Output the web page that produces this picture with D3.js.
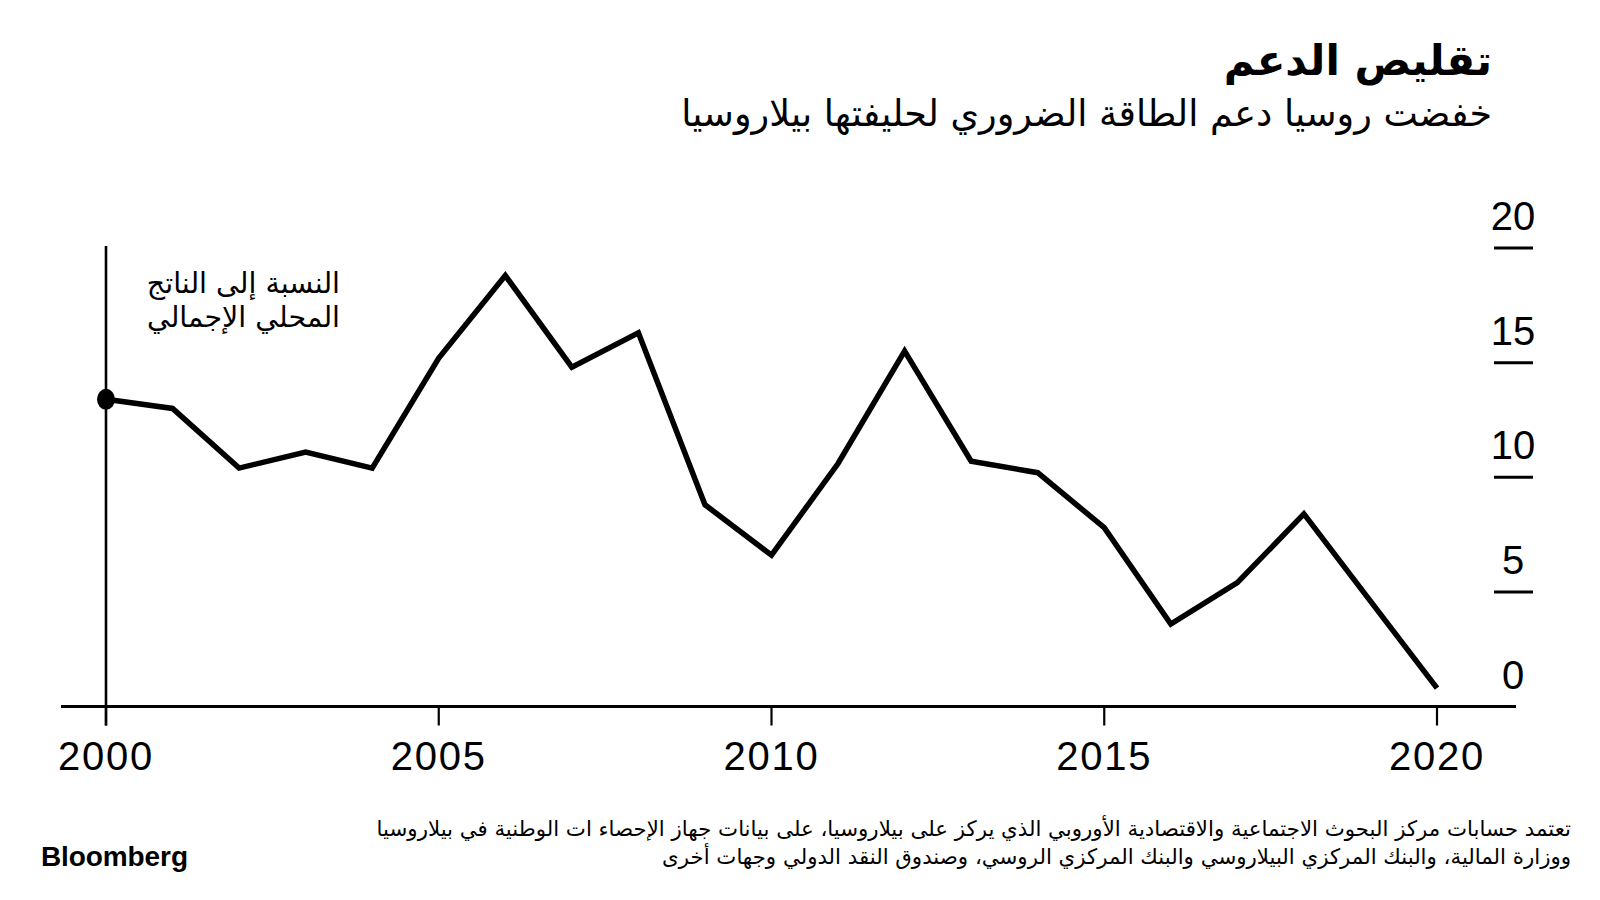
<!DOCTYPE html>
<html>
<head>
<meta charset="utf-8">
<script src="https://cdn.jsdelivr.net/npm/d3@7"></script>
<style>
  html, body { margin: 0; padding: 0; background: #ffffff; }
  svg { display: block; }
</style>
</head>
<body>
<svg id="chart" width="1600" height="900"></svg>
<script>
// ---- data ----
const years = [2000, 2001, 2002, 2003, 2004, 2005, 2006, 2007, 2008, 2009, 2010,
               2011, 2012, 2013, 2014, 2015, 2016, 2017, 2018, 2019, 2020];
const subsidyPctGDP = [13.4, 13.0, 10.4, 11.1, 10.4, 15.2, 18.8, 14.8, 16.3, 8.8, 6.6,
                       10.6, 15.5, 10.7, 10.2, 7.8, 3.6, 5.4, 8.4, 4.6, 0.8];
const xTicks = [2000, 2005, 2010, 2015, 2020];
const yTicks = [0, 5, 10, 15, 20];

const title = "تقليص الدعم";
const subtitle = "خفضت روسيا دعم الطاقة الضروري لحليفتها بيلاروسيا";
const unitLabel = ["النسبة إلى الناتج", "المحلي الإجمالي"];
const sourceLines = [
  "تعتمد حسابات مركز البحوث الاجتماعية والاقتصادية الأوروبي الذي يركز على بيلاروسيا، على بيانات جهاز الإحصاء ات الوطنية في بيلاروسيا",
  "ووزارة المالية، والبنك المركزي البيلاروسي والبنك المركزي الروسي، وصندوق النقد الدولي وجهات أخرى"
];
const brand = "Bloomberg";

// ---- layout ----
const svg = d3.select("#chart");
const arabicFont = "'DejaVu Sans', 'Noto Sans', sans-serif";
const latinFont = "'Liberation Sans', Arial, Helvetica, sans-serif";

const x = d3.scaleLinear().domain([2000, 2020]).range([106, 1437]);
const y = d3.scaleLinear().domain([0, 20]).range([706.5, 248]);

// Title
svg.append("text")
  .attr("x", 1492).attr("y", 75)
  .attr("direction", "rtl").attr("text-anchor", "start")
  .attr("font-family", arabicFont).attr("font-weight", "bold")
  .attr("font-size", 42).attr("fill", "#000")
  .text(title);

// Subtitle
svg.append("text")
  .attr("x", 1492).attr("y", 126)
  .attr("direction", "rtl").attr("text-anchor", "start")
  .attr("font-family", arabicFont)
  .attr("font-size", 36.5).attr("fill", "#000")
  .text(subtitle);

// X axis baseline
svg.append("line")
  .attr("x1", 61).attr("x2", 1516)
  .attr("y1", y(0)).attr("y2", y(0))
  .attr("stroke", "#000").attr("stroke-width", 3.2);

// X ticks + labels
const xg = svg.append("g");
xg.selectAll("line.xt").data(xTicks).join("line")
  .attr("class", "xt")
  .attr("x1", d => x(d)).attr("x2", d => x(d))
  .attr("y1", y(0)).attr("y2", y(0) + 19)
  .attr("stroke", "#000").attr("stroke-width", 2.2);
xg.selectAll("text").data(xTicks).join("text")
  .attr("x", d => x(d)).attr("y", 770)
  .attr("text-anchor", "middle")
  .attr("font-family", latinFont).attr("font-size", 40)
  .attr("letter-spacing", 1.8)
  .attr("fill", "#000")
  .text(d => d);

// Y ticks (short lines under labels) + labels on right
const yg = svg.append("g");
yg.selectAll("line.yt").data(yTicks.filter(d => d > 0)).join("line")
  .attr("class", "yt")
  .attr("x1", 1494).attr("x2", 1533)
  .attr("y1", d => y(d)).attr("y2", d => y(d))
  .attr("stroke", "#000").attr("stroke-width", 3);
yg.selectAll("text").data(yTicks).join("text")
  .attr("x", 1513).attr("y", d => y(d) - 18)
  .attr("text-anchor", "middle")
  .attr("font-family", latinFont).attr("font-size", 40)
  .attr("fill", "#000")
  .text(d => d);

// Vertical reference line at first year
svg.append("line")
  .attr("x1", x(2000)).attr("x2", x(2000))
  .attr("y1", 246).attr("y2", y(0) + 19)
  .attr("stroke", "#000").attr("stroke-width", 2.6);

// Unit label
const ul = svg.append("text")
  .attr("direction", "rtl").attr("text-anchor", "start")
  .attr("font-family", arabicFont).attr("font-size", 28.5)
  .attr("fill", "#000");
ul.selectAll("tspan").data(unitLabel).join("tspan")
  .attr("x", 340).attr("y", (d, i) => 293 + i * 34)
  .text(d => d);

// Line
const data = years.map((yr, i) => ({ yr, v: subsidyPctGDP[i] }));
svg.append("path")
  .datum(data)
  .attr("fill", "none")
  .attr("stroke", "#000")
  .attr("stroke-width", 5.5)
  .attr("stroke-linejoin", "miter")
  .attr("d", d3.line().x(d => x(d.yr)).y(d => y(d.v)));

// Start dot
svg.append("ellipse")
  .attr("cx", x(data[0].yr)).attr("cy", y(data[0].v))
  .attr("rx", 9).attr("ry", 10.5).attr("fill", "#000");

// Source
const src = svg.append("text")
  .attr("direction", "rtl").attr("text-anchor", "start")
  .attr("font-family", arabicFont).attr("font-size", 21.3)
  .attr("fill", "#000");
src.selectAll("tspan").data(sourceLines).join("tspan")
  .attr("x", 1571).attr("y", (d, i) => 836 + i * 28)
  .text(d => d);

// Brand
svg.append("text")
  .attr("x", 41).attr("y", 866)
  .attr("font-family", latinFont).attr("font-weight", "bold")
  .attr("font-size", 28).attr("letter-spacing", -0.1)
  .attr("fill", "#000")
  .text(brand);
</script>
</body>
</html>
